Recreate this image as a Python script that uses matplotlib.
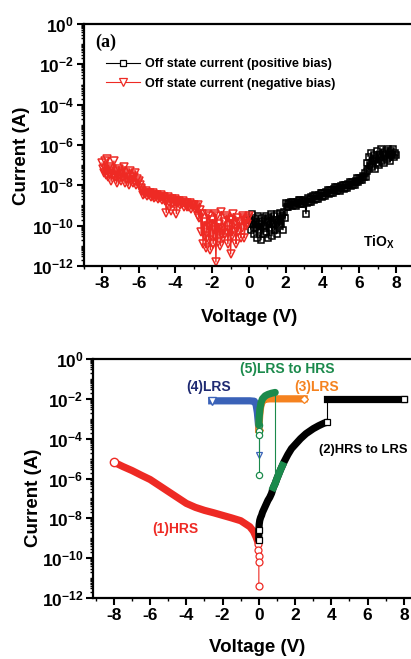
import numpy as np
import matplotlib
matplotlib.use("Agg")
import matplotlib.pyplot as plt
from matplotlib.ticker import FixedLocator, FuncFormatter, LogLocator, NullFormatter

plt.rcParams['font.family'] = ['Liberation Sans', 'DejaVu Sans']
plt.rcParams['font.weight'] = 'bold'
plt.rcParams['mathtext.fontset'] = 'custom'
plt.rcParams['mathtext.rm'] = 'Liberation Sans:bold'
plt.rcParams['mathtext.bf'] = 'Liberation Sans:bold'
plt.rcParams['mathtext.it'] = 'Liberation Sans:bold'

RED = '#ee2a24'
BLUE = '#3a62b8'
ORANGE = '#f5821f'
GREEN = '#1b8a4c'
NAVY = '#1f2a72'

# ---------------- (a) off state current, log10(I)
# negative bias sweep, -8 V .. 0 V
neg_v = ([-8.0, -7.95, -7.9, -7.85, -7.8, -7.75, -7.7, -7.65, -7.6, -7.55, -7.5, -7.45, -7.4, -7.35,
          -7.3, -7.25, -7.2, -7.15, -7.1, -7.05, -7.0, -6.95, -6.9, -6.85, -6.8, -6.75, -6.7, -6.65,
          -6.6, -6.55, -6.5, -6.45, -6.4, -6.35, -6.3, -6.25, -6.2, -6.15, -6.1, -6.05, -6.0, -5.95,
          -5.9, -5.85]
         + [-5.8, -5.75, -5.7, -5.65, -5.6, -5.55, -5.5, -5.45, -5.4, -5.35, -5.3, -5.25, -5.2, -5.15,
            -5.1, -5.05, -5.0, -4.95, -4.9, -4.85, -4.8, -4.75, -4.7, -4.65, -4.6, -4.55, -4.5, -4.45,
            -4.4, -4.35, -4.3, -4.25, -4.2, -4.15, -4.1, -4.05, -4.0, -3.95, -3.9, -3.85, -3.8, -3.75,
            -3.7, -3.65, -3.6, -3.55, -3.5, -3.45, -3.4, -3.35, -3.3, -3.25, -3.2, -3.15, -3.1, -3.05,
            -3.0, -2.95, -2.9, -2.85, -2.8]
         + [-2.75, -2.7, -2.65, -2.6, -2.55, -2.5, -2.45, -2.4, -2.35, -2.3, -2.25, -2.2, -2.15, -2.1,
            -2.05, -2.0, -1.95, -1.9, -1.85, -1.8, -1.75, -1.7, -1.65, -1.6, -1.55, -1.5, -1.45, -1.4,
            -1.35, -1.3, -1.25, -1.2, -1.15, -1.1, -1.05, -1.0, -0.95, -0.9, -0.85, -0.8, -0.75, -0.7,
            -0.65, -0.6, -0.55, -0.5, -0.45, -0.4, -0.35, -0.3, -0.25, -0.2, -0.15, -0.1, -0.05, 0.0])
neg_logi = ([-6.9, -7.2, -7.4, -6.8, -7.5, -7.3, -6.7, -7.6, -7.1, -7.4, -7.8, -7.2, -7.5, -6.8,
             -7.6, -7.3, -7.9, -7.4, -7.7, -7.2, -7.5, -7.8, -7.3, -7.6, -7.1, -7.9, -7.4, -7.7,
             -7.5, -8.0, -7.6, -7.3, -7.8, -7.5, -7.9, -7.6, -7.4, -8.0, -7.7, -7.9, -7.8, -8.0,
             -8.15, -8.2]
            + [-8.27, -8.46, -8.36, -8.45, -8.30, -8.55, -8.39, -8.47, -8.37, -8.56, -8.46, -8.55,
               -8.40, -8.65, -8.49, -8.57, -8.47, -8.66, -8.56, -8.65, -8.50, -8.75, -8.59, -8.67,
               -8.57, -8.76, -9.35, -8.75, -8.60, -8.85, -8.69, -9.25, -8.67, -8.86, -8.76, -8.85,
               -8.70, -9.40, -8.79, -8.87, -8.77, -8.96, -8.86, -8.95, -8.80, -9.05, -8.89, -8.97,
               -8.87, -9.06, -8.96, -9.05, -8.90, -9.15, -8.99, -9.07, -8.97, -9.16, -9.06, -9.15,
               -9.00]
            + [-9.5, -9.6, -9.2, -10.3, -9.4, -10.9, -9.8, -10.5, -11.1, -9.4, -10.0, -10.7, -9.5,
               -11.2, -9.9, -9.7, -10.9, -10.2, -9.4, -11.8, -9.5, -10.8, -9.9, -10.1, -11.0, -9.3,
               -10.4, -10.6, -9.8, -10.4, -9.5, -9.6, -10.9, -10.2, -9.7, -11.4, -9.7, -10.5, -9.4,
               -9.9, -10.3, -10.9, -9.6, -10.3, -9.9, -9.8, -10.6, -10.1, -9.6, -9.5, -10.6, -9.7,
               -10.0, -9.9, -9.6, -9.5])

# positive bias sweep, 0 V .. 8 V
pos_v = ([0.05, 0.1, 0.15, 0.2, 0.25, 0.3, 0.35, 0.4, 0.45, 0.5, 0.55, 0.6, 0.65, 0.7, 0.75, 0.8,
          0.85, 0.9, 0.95, 1.0, 1.05, 1.1, 1.15, 1.2, 1.25, 1.3, 1.35, 1.4, 1.45, 1.5, 1.55, 1.6,
          1.65, 1.7, 1.75, 1.8, 1.85, 1.9, 1.95]
         + [2.0, 2.05, 2.1, 2.15, 2.2, 2.25, 2.3, 2.35, 2.4, 2.45, 2.5, 2.55, 2.6, 2.65, 2.7, 2.75,
            2.8, 2.85, 2.9, 2.95, 3.0, 3.05, 3.1, 3.15, 3.2, 3.25, 3.3, 3.35, 3.4, 3.45, 3.5, 3.55,
            3.6, 3.65, 3.7, 3.75, 3.8, 3.85, 3.9, 3.95, 4.0, 4.05, 4.1, 4.15, 4.2, 4.25, 4.3, 4.35,
            4.4, 4.45, 4.5, 4.55, 4.6, 4.65, 4.7, 4.75, 4.8, 4.85, 4.9, 4.95, 5.0, 5.05, 5.1, 5.15,
            5.2, 5.25, 5.3, 5.35, 5.4, 5.45, 5.5, 5.55, 5.6, 5.65, 5.7, 5.75, 5.8, 5.85, 5.9, 5.95,
            6.0, 6.05, 6.1, 6.15, 6.2, 6.25, 6.3, 6.35]
         + [6.4, 6.45, 6.5, 6.55, 6.6, 6.65, 6.7, 6.75, 6.8, 6.85, 6.9, 6.95, 7.0, 7.05, 7.1, 7.15,
            7.2, 7.25, 7.3, 7.35, 7.4, 7.45, 7.5, 7.55, 7.6, 7.65, 7.7, 7.75, 7.8, 7.85, 7.9, 7.95,
            8.0])
pos_logi = ([-9.7, -10.2, -9.4, -9.9, -10.4, -9.6, -10.1, -9.8, -10.6, -9.5, -10.2, -9.9, -10.7,
             -9.6, -10.0, -10.4, -9.7, -9.5, -10.3, -9.8, -10.6, -9.6, -10.1, -9.4, -10.5, -9.9,
             -9.5, -10.2, -9.7, -10.4, -9.4, -9.8, -10.0, -9.35, -9.9, -9.5, -10.2, -9.3, -9.6]
            + [-8.90, -9.07, -8.95, -9.09, -8.89, -8.97, -8.82, -9.03, -8.82, -8.99, -8.87, -9.01,
               -8.81, -8.89, -8.74, -8.95, -8.74, -8.91, -8.79, -8.93, -8.73, -8.81, -9.40, -8.86,
               -8.64, -8.81, -8.68, -8.81, -8.60, -8.67, -8.52, -8.72, -8.50, -8.66, -8.53, -8.67,
               -8.46, -8.53, -8.37, -8.57, -8.36, -8.52, -8.39, -8.52, -8.31, -8.39, -8.23, -8.43,
               -8.21, -8.37, -8.25, -8.38, -8.18, -8.25, -8.10, -8.30, -8.08, -8.25, -8.12, -8.26,
               -8.05, -8.12, -7.97, -8.17, -7.96, -8.12, -7.99, -8.13, -7.92, -8.00, -7.84, -8.05,
               -7.83, -8.00, -7.87, -7.99, -7.77, -7.83, -7.66, -7.85, -7.62, -7.76, -7.62, -7.74,
               -7.52, -7.58, -7.41, -7.60]
            + [-7.3, -6.9, -7.2, -6.6, -7.0, -6.4, -7.1, -6.8, -6.5, -7.2, -6.7, -6.3, -6.9, -6.5,
               -7.0, -6.6, -6.2, -6.8, -6.4, -6.9, -6.5, -6.3, -6.7, -6.2, -6.6, -6.4, -6.8, -6.3,
               -6.5, -6.2, -6.6, -6.4, -6.5])

# ---------------- (b) switching cycle, log10(I)
hrs_v = [-8.0, -7.5, -7.0, -6.5, -6.0, -5.5, -5.0, -4.5, -4.0, -3.5, -3.0, -2.5, -2.0, -1.5, -1.0,
         -0.7, -0.5, -0.3, -0.15, -0.05]
hrs_logi = [-5.18, -5.4, -5.6, -5.83, -6.05, -6.35, -6.65, -6.95, -7.25, -7.45, -7.6, -7.72, -7.85,
            -7.98, -8.12, -8.3, -8.42, -8.65, -8.95, -9.2]
hrs_tail_v = [-0.03, -0.02, -0.01, 0.0, 0.0]
hrs_tail_logi = [-9.3, -9.6, -9.9, -10.2, -11.4]

set_v = [0.0, 0.0, 0.02, 0.05, 0.1, 0.15, 0.2, 0.3, 0.4, 0.5, 0.6, 0.7, 0.8, 0.9, 1.0, 1.2, 1.4,
         1.6, 1.8, 2.0, 2.3, 2.6, 3.0, 3.3, 3.6, 3.75]
set_logi = [-9.1, -8.6, -8.3, -8.1, -7.95, -7.85, -7.7, -7.5, -7.3, -7.1, -6.95, -6.75, -6.45, -6.25,
            -6.0, -5.55, -5.15, -4.8, -4.5, -4.3, -4.0, -3.75, -3.5, -3.35, -3.22, -3.18]
comp_v = [3.75, 4.0, 4.5, 5.0, 5.5, 6.0, 6.5, 7.0, 7.5, 8.0]
comp_logi = [-2.0, -2.0, -2.0, -2.0, -2.0, -2.0, -2.0, -2.0, -2.0, -2.0]

lrs3_v = [0.0, 0.02, 0.05, 0.1, 0.18, 0.3, 0.6, 1.0, 1.5, 2.0, 2.5]
lrs3_logi = [-3.55, -3.2, -2.8, -2.4, -2.15, -2.03, -2.0, -2.0, -2.0, -2.0, -2.0]

lrs4_v = [-2.6, -2.0, -1.5, -1.0, -0.5, -0.25, -0.15, -0.08, -0.03, 0.0]
lrs4_logi = [-2.1, -2.1, -2.1, -2.1, -2.1, -2.12, -2.3, -2.7, -3.2, -3.5]
lrs4_tail_v = [0.0, 0.0]
lrs4_tail_logi = [-3.5, -4.82]

reset_v = [0.0, 0.02, 0.06, 0.12, 0.2, 0.35, 0.5, 0.7, 0.9]
reset_logi = [-3.3, -2.9, -2.5, -2.2, -2.0, -1.85, -1.78, -1.72, -1.68]
reset_tail_v = [0.0, 0.0, 0.0, 0.0]
reset_tail_logi = [-3.3, -3.6, -3.8, -5.83]
reset_drop_v = [0.9, 0.9]
reset_drop_logi = [-1.68, -6.25]
reset_low_v = [0.8, 0.9, 1.0, 1.1, 1.2, 1.3]
reset_low_logi = [-6.45, -6.25, -6.0, -5.78, -5.55, -5.35]


def cur(a):
    return 10.0 ** np.array(a)


def style_axes(ax, xlim):
    ax.set_yscale('log')
    ax.set_ylim(1e-12, 1)
    ax.set_xlim(*xlim)
    ax.yaxis.set_major_locator(FixedLocator([10.0 ** k for k in range(-12, 1, 2)]))
    ax.yaxis.set_major_formatter(FuncFormatter(lambda y, p: r'$\mathbf{10^{%d}}$' % round(np.log10(y))))
    ax.yaxis.set_minor_locator(LogLocator(base=10, subs=np.arange(1, 10), numticks=30))
    ax.yaxis.set_minor_formatter(NullFormatter())
    ax.set_xticks([-8, -6, -4, -2, 0, 2, 4, 6, 8])
    ax.set_xticklabels(['-8', '-6', '-4', '-2', '0', '2', '4', '6', '8'])
    ax.set_xticks([-9, -7, -5, -3, -1, 1, 3, 5, 7, 9], minor=True)
    ax.tick_params(which='major', direction='out', length=5, width=1.5, labelsize=12.5, pad=2)
    ax.tick_params(which='minor', direction='out', length=2.5, width=1.0)
    for s in ax.spines.values():
        s.set_linewidth(1.6)


fig = plt.figure(figsize=(4.11, 6.59), dpi=100)

# ---------- top panel
ax1 = fig.add_axes([83.6 / 411, 1 - 266 / 659, 330.75 / 411, 242 / 659])
ax1.plot(pos_v, cur(pos_logi), '-', color='black', lw=1.0, marker='s', ms=5,
         mfc='none', mec='black', mew=1.1, label='Off state current (positive bias)')
ax1.plot(neg_v, cur(neg_logi), '-', color=RED, lw=1.0, marker='v', ms=5.6,
         mfc='none', mec=RED, mew=1.1, label='Off state current (negative bias)')
style_axes(ax1, (-9, 9))
leg = ax1.legend(loc='upper left', bbox_to_anchor=(0.068, 0.858), frameon=False, fontsize=9.1,
                 handlelength=2.7, handletextpad=0.4, labelspacing=0.58, borderpad=0, borderaxespad=0)
for h in leg.legend_handles:
    h.set_markerfacecolor('white')
    h.set_linewidth(0.8)
    h.set_markeredgewidth(0.9)
ax1.text(0.034, 0.925, '(a)', transform=ax1.transAxes, fontsize=13, fontweight='bold',
         family='Liberation Serif', va='center', ha='left')
ax1.text(0.845, 0.1, r'TiO$_\mathbf{X}$', transform=ax1.transAxes, fontsize=10, va='center', ha='left')

# ---------- bottom panel
ax2 = fig.add_axes([93 / 411, 1 - 598 / 659, 331.7 / 411, 239 / 659])
thick = 5.2
ax2.plot(hrs_v, cur(hrs_logi), '-', color=RED, lw=thick, solid_capstyle='round')
ax2.plot(hrs_v[:1], cur(hrs_logi[:1]), 'o', ms=6, mfc='white', mec=RED, mew=1)
ax2.plot(hrs_tail_v, cur(hrs_tail_logi), '-', color=RED, lw=0.8, marker='o', ms=5,
         mfc='white', mec=RED, mew=0.9)

ax2.plot(set_v, cur(set_logi), '-', color='black', lw=thick, solid_capstyle='round')
ax2.plot(set_v[:2], cur(set_logi[:2]), 's', ms=4.5, mfc='white', mec='black', mew=0.9)
ax2.plot([set_v[-1], comp_v[0]], cur([set_logi[-1], comp_logi[0]]), '-', color='black', lw=0.8)
ax2.plot(set_v[-1:], cur(set_logi[-1:]), 's', ms=4.5, mfc='white', mec='black', mew=0.9)
ax2.plot(comp_v, cur(comp_logi), '-', color='black', lw=thick)
ax2.plot(comp_v[-1:], cur(comp_logi[-1:]), 's', ms=4.5, mfc='white', mec='black', mew=0.9)

ax2.plot(lrs4_v, cur(lrs4_logi), '-', color=BLUE, lw=thick)
ax2.plot(lrs4_v[:1], cur(lrs4_logi[:1]), 'v', ms=5.5, mfc='white', mec=BLUE, mew=1)
ax2.plot(lrs4_tail_v, cur(lrs4_tail_logi), '-', color=BLUE, lw=0.8, marker='v', ms=5,
         mfc='white', mec=BLUE, mew=0.9, markevery=[1])

ax2.plot(lrs3_v, cur(lrs3_logi), '-', color=ORANGE, lw=thick)
ax2.plot([lrs3_v[0], lrs3_v[-1]], cur([lrs3_logi[0], lrs3_logi[-1]]), 'D', ms=4, mfc='white',
         mec=ORANGE, mew=0.9)

ax2.plot(reset_tail_v, cur(reset_tail_logi), '-', color=GREEN, lw=0.8, marker='o', ms=4.5,
         mfc='white', mec=GREEN, mew=0.9)
ax2.plot(reset_v, cur(reset_logi), '-', color=GREEN, lw=thick, solid_capstyle='round')
ax2.plot(reset_drop_v, cur(reset_drop_logi), '-', color=GREEN, lw=0.8)
ax2.plot(reset_low_v, cur(reset_low_logi), '-', color=GREEN, lw=thick)
style_axes(ax2, (-9.15, 9.15))

ax2.text(-2.79, 10 ** -1.41, '(4)LRS', color=NAVY, fontsize=10, ha='center', va='center')
ax2.text(1.57, 10 ** -0.5, '(5)LRS to HRS', color=GREEN, fontsize=10, ha='center', va='center')
ax2.text(3.17, 10 ** -1.41, '(3)LRS', color=ORANGE, fontsize=10, ha='center', va='center')
ax2.text(3.3, 10 ** -4.57, '(2)HRS to LRS', color='black', fontsize=9.4, ha='left', va='center')
ax2.text(-4.6, 10 ** -8.53, '(1)HRS', color=RED, fontsize=10, ha='center', va='center')

# axis titles
fig.text(249 / 411, 1 - 317 / 659, 'Voltage (V)', fontsize=13.5, ha='center', va='center')
fig.text(257 / 411, 1 - 648 / 659, 'Voltage (V)', fontsize=13.5, ha='center', va='center')
fig.text(22 / 411, 1 - 156 / 659, 'Current (A)', fontsize=13.5, rotation=90, ha='center', va='center')
fig.text(33 / 411, 1 - 498 / 659, 'Current (A)', fontsize=13.5, rotation=90, ha='center', va='center')

fig.savefig('out.png', dpi=100)
